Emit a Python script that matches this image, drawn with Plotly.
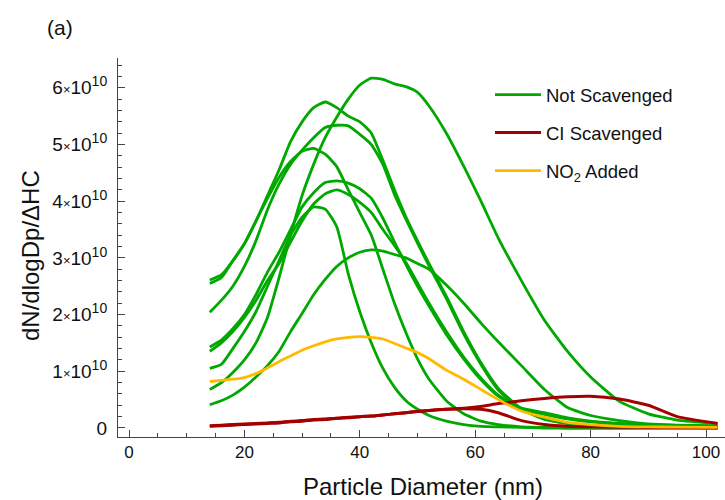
import plotly.graph_objects as go

# ---------------- data (values in units of 1e10) ----------------
diameter_nm = [14, 16, 18, 20, 22, 24, 26, 28, 30, 32, 34, 36, 38, 40, 42, 44, 46, 48, 50, 52,
               55, 58, 61, 64, 68, 72, 76, 80, 85, 90, 95, 102]

ns_1 = [0.68, 0.80, 0.98, 1.20, 1.50, 1.95, 2.65, 3.40, 4.10, 4.65, 5.12, 5.48, 5.80, 6.05, 6.17, 6.15, 6.07, 6.02, 5.92, 5.68,
        5.20, 4.62, 4.00, 3.35, 2.60, 1.90, 1.35, 0.90, 0.47, 0.25, 0.14, 0.08]
ns_2 = [2.55, 2.65, 2.95, 3.25, 3.65, 4.10, 4.55, 5.05, 5.40, 5.65, 5.75, 5.65, 5.50, 5.40, 5.20, 4.72, 4.20, 3.72, 3.30, 2.90,
        2.32, 1.70, 1.15, 0.70, 0.34, 0.16, 0.08, 0.04, 0.02, 0.01, 0.01, 0.00]
ns_3 = [2.04, 2.25, 2.50, 2.85, 3.30, 3.85, 4.30, 4.65, 4.90, 5.12, 5.30, 5.34, 5.33, 5.18, 5.00, 4.65, 4.12, 3.68, 3.26, 2.86,
        2.28, 1.66, 1.12, 0.67, 0.33, 0.15, 0.08, 0.04, 0.02, 0.01, 0.01, 0.00]
ns_4 = [2.61, 2.70, 2.95, 3.25, 3.65, 4.05, 4.42, 4.70, 4.88, 4.93, 4.83, 4.61, 4.20, 3.80, 3.40, 2.80, 2.20, 1.68, 1.22, 0.86,
        0.48, 0.25, 0.12, 0.06, 0.02, 0.01, 0.00, 0.00, 0.00, 0.00, 0.00, 0.00]
ns_5 = [1.43, 1.55, 1.75, 2.00, 2.35, 2.75, 3.10, 3.50, 3.90, 4.15, 4.33, 4.36, 4.32, 4.22, 4.05, 3.70, 3.28, 2.88, 2.50, 2.15,
        1.65, 1.22, 0.85, 0.56, 0.33, 0.24, 0.16, 0.11, 0.07, 0.045, 0.03, 0.02]
ns_6 = [1.35, 1.50, 1.70, 1.95, 2.25, 2.60, 2.90, 3.28, 3.65, 3.95, 4.13, 4.20, 4.12, 3.98, 3.80, 3.50, 3.22, 2.92, 2.56, 2.20,
        1.70, 1.25, 0.88, 0.58, 0.35, 0.27, 0.18, 0.12, 0.08, 0.05, 0.03, 0.02]
ns_7 = [1.05, 1.12, 1.40, 1.70, 2.05, 2.50, 2.95, 3.40, 3.72, 3.90, 3.86, 3.55, 2.72, 2.05, 1.50, 1.05, 0.72, 0.48, 0.33, 0.22,
        0.12, 0.06, 0.03, 0.02, 0.01, 0.00, 0.00, 0.00, 0.00, 0.00, 0.00, 0.00]
ns_8 = [0.41, 0.48, 0.58, 0.72, 0.90, 1.10, 1.35, 1.70, 2.02, 2.35, 2.62, 2.85, 3.00, 3.10, 3.14, 3.12, 3.06, 3.00, 2.90, 2.80,
        2.52, 2.20, 1.85, 1.52, 1.10, 0.68, 0.36, 0.22, 0.13, 0.07, 0.05, 0.04]

ci_1 = [0.04, 0.05, 0.06, 0.07, 0.08, 0.09, 0.10, 0.12, 0.13, 0.15, 0.16, 0.17, 0.19, 0.20, 0.21, 0.23, 0.25, 0.27, 0.29, 0.31,
        0.33, 0.35, 0.38, 0.43, 0.48, 0.52, 0.55, 0.56, 0.51, 0.40, 0.20, 0.08]
ci_2 = [0.03, 0.04, 0.05, 0.06, 0.07, 0.08, 0.09, 0.11, 0.12, 0.14, 0.15, 0.17, 0.18, 0.20, 0.21, 0.23, 0.25, 0.27, 0.29, 0.31,
        0.33, 0.34, 0.33, 0.27, 0.13, 0.06, 0.03, 0.02, 0.015, 0.01, 0.01, 0.01]

no2_added = [0.82, 0.84, 0.86, 0.89, 0.96, 1.06, 1.17, 1.27, 1.37, 1.45, 1.52, 1.57, 1.60, 1.61, 1.60, 1.57, 1.49, 1.41, 1.33, 1.22,
             1.02, 0.86, 0.68, 0.50, 0.30, 0.19, 0.10, 0.06, 0.03, 0.02, 0.015, 0.01]

x_ticks = [0, 20, 40, 60, 80, 100]
y_ticks = [0, 1, 2, 3, 4, 5, 6]
y_tick_labels = ["0"] + [
    f"{k}<span style='font-size:13px'>\u00d7</span>10<sup><span style='font-size:14px'>10</span></sup>"
    for k in y_ticks[1:]]

SCALE = 1e10

# ---------------- figure ----------------
W, H = 725, 500
L, R, T, B = 118, 0, 58, 63
PW, PH = W - L - R, H - T - B

GREEN = "rgb(0,168,0)"
RED = "rgb(165,0,0)"
YELLOW = "rgb(255,186,0)"
FONT = "Liberation Sans, Arial, Helvetica, sans-serif"

fig = go.Figure()

def add_series(ys, color, name, group, show, width):
    fig.add_trace(go.Scatter(
        x=diameter_nm, y=[v * SCALE for v in ys], mode="lines",
        line=dict(color=color, width=width, shape="spline", smoothing=0.5),
        name=name, legendgroup=group, showlegend=show, hoverinfo="skip"))

for i, s in enumerate([ns_1, ns_2, ns_3, ns_4, ns_5, ns_6, ns_7, ns_8]):
    add_series(s, GREEN, "Not Scavenged", "ns", i == 0, 2.8)
for i, s in enumerate([ci_1, ci_2]):
    add_series(s, RED, "CI Scavenged", "ci", i == 0, 3.0)
add_series(no2_added, YELLOW, "NO<sub>2</sub> Added", "no2", True, 2.8)

def px_x(p):
    return (p - L) / PW

def px_y(p):
    return (H - B - p) / PH

axis_common = dict(showline=True, linecolor="#444", linewidth=1, showgrid=False, zeroline=False,
                   ticks="inside", tickcolor="#444", tickwidth=1, ticklen=7)

fig.update_layout(
    width=W, height=H,
    margin=dict(l=L, r=R, t=T, b=B, autoexpand=False),
    paper_bgcolor="white", plot_bgcolor="white",
    font=dict(family=FONT, color="#111"),
    xaxis=dict(range=[-1.906, 103.29], tickmode="array", tickvals=x_ticks,
               ticktext=[str(v) for v in x_ticks],
               tickfont=dict(family=FONT, size=17, color="#111"),
               minor=dict(dtick=5, tick0=0, ticks="inside", ticklen=4, tickcolor="#444", tickwidth=1),
               **axis_common),
    yaxis=dict(range=[-0.159 * SCALE, 6.526 * SCALE], tickmode="array",
               tickvals=[v * SCALE for v in y_ticks], ticktext=y_tick_labels,
               tickfont=dict(family=FONT, size=19, color="#111"), ticklabelstandoff=6,
               minor=dict(dtick=0.2 * SCALE, tick0=0, ticks="inside", ticklen=4, tickcolor="#444", tickwidth=1),
               **axis_common),
    legend=dict(x=px_x(490), y=px_y(76), xanchor="left", yanchor="top",
                bgcolor="rgba(0,0,0,0)", font=dict(family=FONT, size=18.5, color="#111"),
                traceorder="grouped", tracegroupgap=11, itemwidth=46),
    annotations=[
        dict(text="(a)", x=px_x(60), y=px_y(27), xref="paper", yref="paper",
             xanchor="center", yanchor="middle",
             showarrow=False, font=dict(family=FONT, size=21, color="#111")),
        dict(text="dN/dlogDp/\u0394HC", x=px_x(30), y=px_y(256), xref="paper", yref="paper",
             xanchor="center", yanchor="middle",
             showarrow=False, textangle=-90, font=dict(family=FONT, size=24, color="#111")),
        dict(text="Particle Diameter (nm)", x=px_x(423), y=px_y(486), xref="paper", yref="paper",
             xanchor="center", yanchor="middle",
             showarrow=False, font=dict(family=FONT, size=24, color="#111")),
    ],
)

fig.write_html("out.html", config={"displayModeBar": False},
               post_script="document.body.style.margin='0';document.body.style.padding='0';")
